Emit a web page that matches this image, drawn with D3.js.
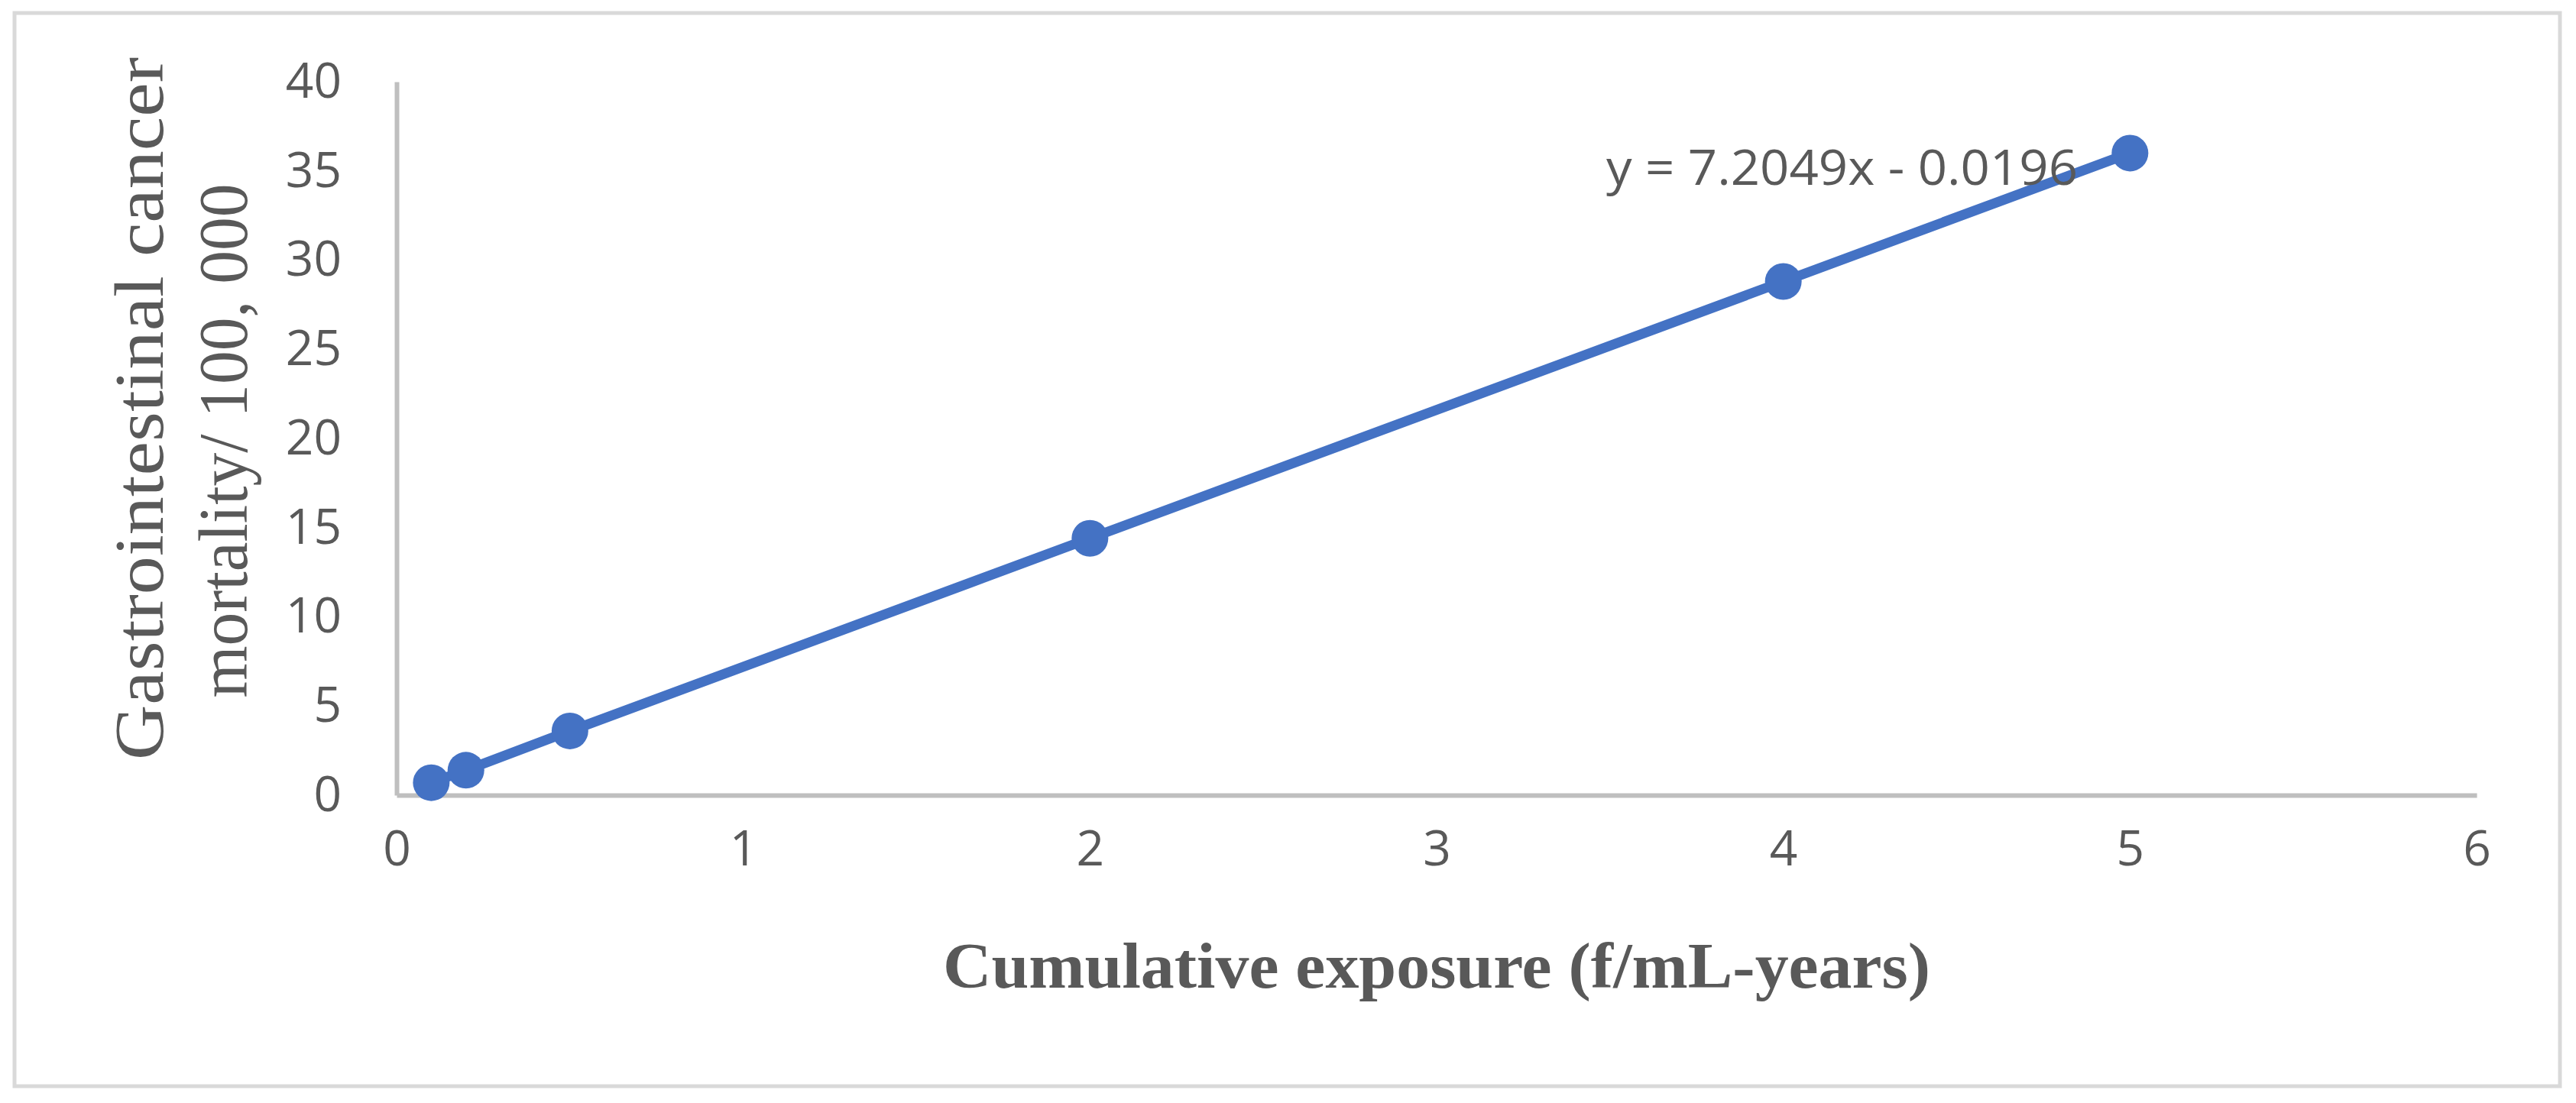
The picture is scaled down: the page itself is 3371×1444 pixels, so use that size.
<!DOCTYPE html>
<html>
<head>
<meta charset="utf-8">
<script src="https://cdn.jsdelivr.net/npm/d3@7"></script>
<style>
  html, body { margin: 0; padding: 0; background: #ffffff; }
  svg { display: block; }
</style>
</head>
<body>
<script>
// ---- data ----
const exposure = [0.1, 0.2, 0.5, 2, 4, 5];
const mortality = [0.7, 1.4, 3.6, 14.4, 28.8, 36.0];
const xTicks = [0, 1, 2, 3, 4, 5, 6];
const yTicks = [0, 5, 10, 15, 20, 25, 30, 35, 40];
const xTitle = "Cumulative exposure (f/mL-years)";
const yTitleLines = ["Gastrointestinal cancer", "mortality/ 100, 000"];
const equationLabel = "y = 7.2049x - 0.0196";

// ---- layout ----
const W = 3371, H = 1444;
const plot = { left: 519, right: 3241, top: 107, bottom: 1041 };
const blue = "#4472C4", textGray = "#595959", axisGray = "#BFBFBF", borderGray = "#D9D9D9";
const sansFont = "'Open Sans', 'Noto Sans', sans-serif";
const serifFont = "'Liberation Serif', 'DejaVu Serif', serif";

const svg = d3.select("body").append("svg")
  .attr("width", W).attr("height", H);

svg.append("rect").attr("x", 0).attr("y", 0).attr("width", W).attr("height", H).attr("fill", "#fff");
svg.append("rect").attr("x", 19).attr("y", 17).attr("width", 3331).attr("height", 1405)
  .attr("fill", "none").attr("stroke", borderGray).attr("stroke-width", 5);

const x = d3.scaleLinear().domain([0, 6]).range([plot.left, plot.right]);
const y = d3.scaleLinear().domain([0, 40]).range([plot.bottom, plot.top]);

// x axis
const xAxis = svg.append("g")
  .attr("transform", `translate(0,${plot.bottom})`)
  .call(d3.axisBottom(x).tickValues(xTicks).tickSize(0).tickPadding(72).tickFormat(d3.format("d")));
xAxis.select(".domain").attr("stroke", axisGray).attr("stroke-width", 6);
xAxis.selectAll("text").attr("fill", textGray).attr("font-size", 64)
  .attr("font-family", sansFont).attr("dy", "0.32em");

// y axis
const yAxis = svg.append("g")
  .attr("transform", `translate(${plot.left},0)`)
  .call(d3.axisLeft(y).tickValues(yTicks).tickSize(0).tickPadding(72).tickFormat(d3.format("d")));
yAxis.select(".domain").attr("stroke", axisGray).attr("stroke-width", 6);
yAxis.selectAll("text").attr("fill", textGray).attr("font-size", 64)
  .attr("font-family", sansFont);

// line
const pts = exposure.map((d, i) => [d, mortality[i]]);
svg.append("path")
  .datum(pts)
  .attr("fill", "none")
  .attr("stroke", blue)
  .attr("stroke-width", 13)
  .attr("d", d3.line().x(d => x(d[0])).y(d => y(d[1])));

// markers
svg.append("g").selectAll("circle")
  .data(pts).join("circle")
  .attr("cx", d => x(d[0])).attr("cy", d => y(d[1]))
  .attr("r", 24).attr("fill", blue);

// equation
svg.append("text")
  .attr("x", 2102).attr("y", 242)
  .attr("fill", textGray).attr("font-size", 64).attr("font-family", sansFont)
  .attr("textLength", 617).attr("lengthAdjust", "spacingAndGlyphs")
  .text(equationLabel);

// x title
svg.append("text")
  .attr("x", 1234).attr("y", 1293)
  .attr("fill", textGray).attr("font-size", 84).attr("font-weight", "bold")
  .attr("font-family", serifFont)
  .attr("textLength", 1292).attr("lengthAdjust", "spacingAndGlyphs")
  .text(xTitle);

// y title (two lines, rotated)
const yTitleCenters = [535, 577];
const yTitleBaselines = [213, 323];
const yTitleLengths = [920, 673];
yTitleLines.forEach((t, i) => {
  svg.append("text")
    .attr("transform", `translate(${yTitleBaselines[i]},${yTitleCenters[i]}) rotate(-90)`)
    .attr("text-anchor", "middle")
    .attr("fill", textGray).attr("font-size", 90)
    .attr("font-family", serifFont)
    .attr("textLength", yTitleLengths[i]).attr("lengthAdjust", "spacingAndGlyphs")
    .text(t);
});
</script>
</body>
</html>
